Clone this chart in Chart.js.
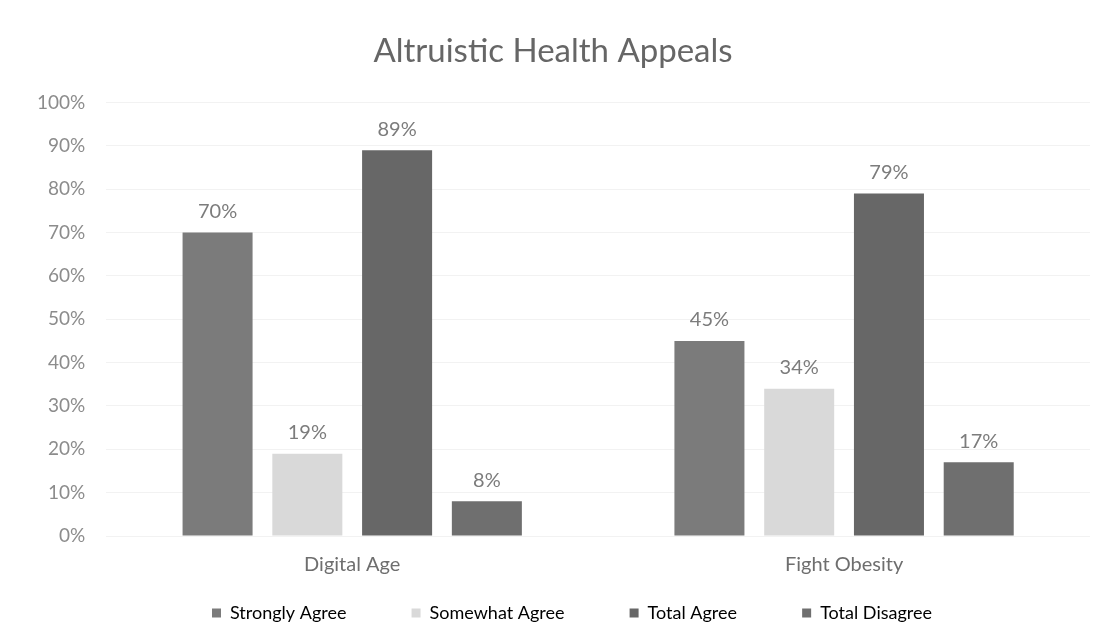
<!DOCTYPE html>
<html>
<head>
<meta charset="utf-8">
<script src="https://cdn.jsdelivr.net/npm/chart.js@4"></script>
<style>
  html, body { margin: 0; padding: 0; background: #fff; }
  #wrap { width: 1112px; height: 641px; }
</style>
</head>
<body>
<div id="wrap"><canvas id="chart" width="1112" height="641"></canvas></div>
<script>
const categories = ['Digital Age', 'Fight Obesity'];
const seriesNames = ['Strongly Agree', 'Somewhat Agree', 'Total Agree', 'Total Disagree'];
const stronglyAgree = [70, 45];
const somewhatAgree = [19, 34];
const totalAgree = [89, 79];
const totalDisagree = [8, 17];
const yTicks = [0, 10, 20, 30, 40, 50, 60, 70, 80, 90, 100];

const colors = ['#7b7b7b', '#d9d9d9', '#676767', '#6f6f6f'];
const seriesValues = [stronglyAgree, somewhatAgree, totalAgree, totalDisagree];

// value labels above each bar
const barLabels = {
    id: 'barLabels',
    afterDatasetsDraw(chart) {
        const ctx = chart.ctx;
        ctx.save();
        ctx.font = '20px Lato, sans-serif';
        ctx.fillStyle = '#7c7c7c';
        ctx.textAlign = 'center';
        ctx.textBaseline = 'middle';
        chart.data.datasets.forEach((ds, i) => {
            chart.getDatasetMeta(i).data.forEach((bar, j) => {
                ctx.fillText(ds.data[j] + '%', bar.x, bar.y - 21);
            });
        });
        ctx.restore();
    }
};

// nudge the legend row a bit to the right, like the original
const legendNudge = {
    id: 'legendNudge',
    afterLayout(chart) {
        chart.legend.left += 19;
        chart.legend.right += 19;
    }
};

const legendGap = '          ';

new Chart(document.getElementById('chart'), {
    type: 'bar',
    data: {
        labels: categories,
        datasets: seriesNames.map((name, i) => ({
            label: name,
            data: seriesValues[i],
            backgroundColor: colors[i],
            borderWidth: 0,
            barPercentage: 0.78,
            categoryPercentage: 0.73,
        }))
    },
    options: {
        responsive: false,
        animation: false,
        layout: { padding: { left: 16, right: 22, top: 10, bottom: 9 } },
        plugins: {
            title: {
                display: true,
                text: 'Altruistic Health Appeals',
                color: '#666',
                font: { family: 'Lato, sans-serif', size: 33, weight: 'normal' },
                padding: { top: 22, bottom: 31 }
            },
            legend: {
                position: 'bottom',
                labels: {
                    boxWidth: 9,
                    boxHeight: 9,
                    padding: 19,
                    color: '#7a7a7a',
                    font: { family: 'Lato, sans-serif', size: 18 },
                    generateLabels: chart => chart.data.datasets.map((ds, i, all) => ({
                        text: ds.label + (i < all.length - 1 ? legendGap : ''),
                        fillStyle: ds.backgroundColor,
                        strokeStyle: ds.backgroundColor,
                        lineWidth: 0,
                        datasetIndex: i
                    }))
                }
            },
            tooltip: { enabled: false }
        },
        scales: {
            x: {
                grid: { display: false },
                border: { display: false },
                ticks: { color: '#6e6e6e', font: { family: 'Lato, sans-serif', size: 20 }, padding: 9 },
                afterFit: axis => { axis.height -= 1; }
            },
            y: {
                min: 0,
                max: 100,
                afterBuildTicks: axis => { axis.ticks = yTicks.map(v => ({ value: v })); },
                grid: { color: '#f2f2f2', drawTicks: false },
                border: { display: false },
                ticks: {
                    color: '#8c8c8c',
                    font: { family: 'Lato, sans-serif', size: 19 },
                    padding: 21,
                    callback: v => v + '%'
                }
            }
        }
    },
    plugins: [barLabels, legendNudge]
});
</script>
</body>
</html>
